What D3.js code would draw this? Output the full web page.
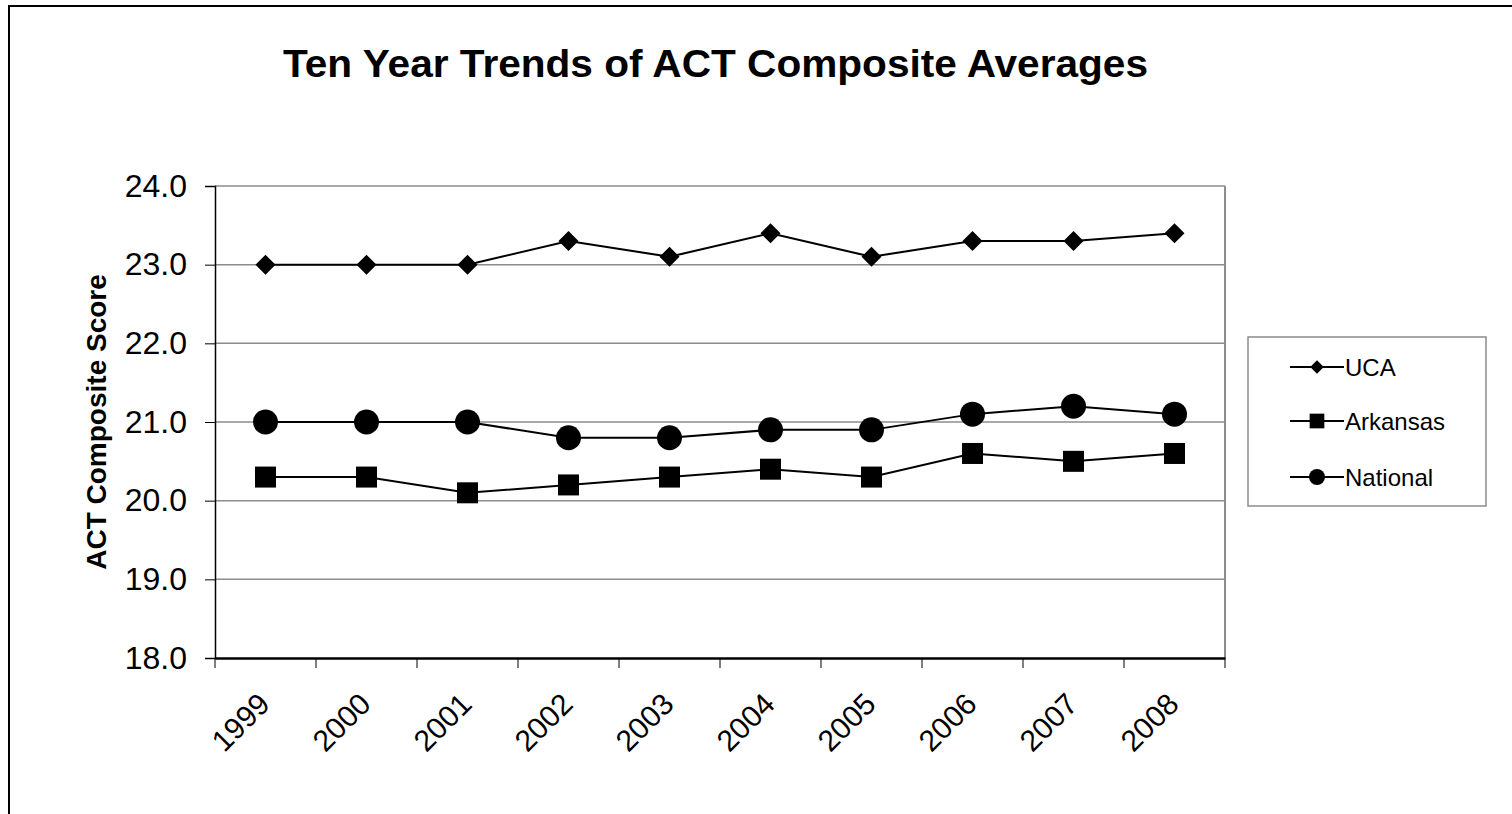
<!DOCTYPE html>
<html>
<head>
<meta charset="utf-8">
<script src="https://cdn.jsdelivr.net/npm/d3@7"></script>
<style>
  body { margin: 0; background: #fff; }
  text { font-family: "Liberation Sans", Arial, sans-serif; }
</style>
</head>
<body>
<div id="chart"></div>
<script>
const years = ["1999", "2000", "2001", "2002", "2003", "2004", "2005", "2006", "2007", "2008"];
const ucaScores = [23.0, 23.0, 23.0, 23.3, 23.1, 23.4, 23.1, 23.3, 23.3, 23.4];
const arkansasScores = [20.3, 20.3, 20.1, 20.2, 20.3, 20.4, 20.3, 20.6, 20.5, 20.6];
const nationalScores = [21.0, 21.0, 21.0, 20.8, 20.8, 20.9, 20.9, 21.1, 21.2, 21.1];
const yTicks = [18, 19, 20, 21, 22, 23, 24];

const series = [
    { name: "UCA", values: ucaScores, shape: d3.symbolDiamond2, size: 255, legendSize: 115 },
    { name: "Arkansas", values: arkansasScores, shape: d3.symbolSquare, size: 441, legendSize: 216 },
    { name: "National", values: nationalScores, shape: d3.symbolCircle, size: 491, legendSize: 201 }
];

const width = 1512, height = 814;
const plot = { left: 215, right: 1225, top: 186, bottom: 658 };

const svg = d3.select("#chart").append("svg")
    .attr("width", width)
    .attr("height", height);

// outer frame
svg.append("rect")
    .attr("x", 9).attr("y", 6)
    .attr("width", 1520).attr("height", 900)
    .attr("fill", "none").attr("stroke", "#000").attr("stroke-width", 2);

svg.append("text")
    .attr("x", 283).attr("y", 77)
    .attr("font-size", 38).attr("font-weight", "bold")
    .attr("textLength", 865).attr("lengthAdjust", "spacingAndGlyphs")
    .text("Ten Year Trends of ACT Composite Averages");

const x = d3.scaleBand().domain(years).range([plot.left, plot.right]);
const y = d3.scaleLinear().domain([18, 24]).range([plot.bottom, plot.top]);

// gridlines
svg.append("g").selectAll("line")
    .data(yTicks.slice(1))
    .enter().append("line")
    .attr("x1", plot.left).attr("x2", plot.right)
    .attr("y1", d => y(d)).attr("y2", d => y(d))
    .attr("stroke", "#8c8c8c").attr("stroke-width", 1.5);

// right border of plot area
svg.append("line")
    .attr("x1", plot.right).attr("x2", plot.right)
    .attr("y1", plot.top).attr("y2", plot.bottom)
    .attr("stroke", "#8c8c8c").attr("stroke-width", 2);

// y axis
const yAxis = svg.append("g")
    .attr("transform", `translate(${plot.left},0)`)
    .call(d3.axisLeft(y).tickValues(yTicks).tickFormat(d3.format(".1f")).tickSize(10).tickPadding(18));
yAxis.select(".domain").attr("stroke", "#000").attr("stroke-width", 1.5);
yAxis.selectAll(".tick line").attr("stroke", "#000");
yAxis.selectAll("text").attr("font-size", 32).attr("fill", "#000")
    .attr("font-family", "Liberation Sans, Arial, sans-serif");

// x axis
const xAxis = svg.append("g")
    .attr("transform", `translate(0,${plot.bottom})`)
    .call(d3.axisBottom(x).tickSize(0).tickPadding(0));
xAxis.select(".domain").attr("stroke", "#000").attr("stroke-width", 2.5);
xAxis.selectAll(".tick text")
    .attr("font-size", 30).attr("fill", "#000")
    .attr("font-family", "Liberation Sans, Arial, sans-serif")
    .attr("text-anchor", "end")
    .attr("dy", 0)
    .attr("transform", "translate(6,48) rotate(-45)");
// boundary ticks between categories
svg.append("g").selectAll("line")
    .data(years.concat(["end"]))
    .enter().append("line")
    .attr("x1", (d, i) => plot.left + i * x.bandwidth())
    .attr("x2", (d, i) => plot.left + i * x.bandwidth())
    .attr("y1", plot.bottom).attr("y2", plot.bottom + 10)
    .attr("stroke", "#000").attr("stroke-width", 1);

// y axis title
svg.append("text")
    .attr("transform", `translate(106,${(plot.top + plot.bottom) / 2}) rotate(-90)`)
    .attr("text-anchor", "middle")
    .attr("font-size", 28).attr("font-weight", "bold")
    .text("ACT Composite Score");

const line = d3.line()
    .x((d, i) => x(years[i]) + x.bandwidth() / 2)
    .y(d => y(d));

series.forEach(s => {
    svg.append("path")
        .attr("d", line(s.values))
        .attr("fill", "none").attr("stroke", "#000").attr("stroke-width", 2);
    svg.append("g").selectAll("path")
        .data(s.values)
        .enter().append("path")
        .attr("d", d3.symbol().type(s.shape).size(s.size))
        .attr("transform", (d, i) => `translate(${x(years[i]) + x.bandwidth() / 2},${y(d)})`)
        .attr("fill", "#000");
});

// legend
const legend = svg.append("g");
legend.append("rect")
    .attr("x", 1248).attr("y", 337)
    .attr("width", 238).attr("height", 169)
    .attr("fill", "#fff").attr("stroke", "#8c8c8c").attr("stroke-width", 1.5);
const legendRows = [367, 421, 477];
series.forEach((s, i) => {
    const g = legend.append("g").attr("transform", `translate(0,${legendRows[i]})`);
    g.append("line").attr("x1", 1290).attr("x2", 1344).attr("y1", 0).attr("y2", 0)
        .attr("stroke", "#000").attr("stroke-width", 2);
    g.append("path")
        .attr("d", d3.symbol().type(s.shape).size(s.legendSize))
        .attr("transform", "translate(1317,0)")
        .attr("fill", "#000");
    g.append("text").attr("x", 1345).attr("y", 8.5)
        .attr("font-size", 24).text(s.name);
});
</script>
</body>
</html>
